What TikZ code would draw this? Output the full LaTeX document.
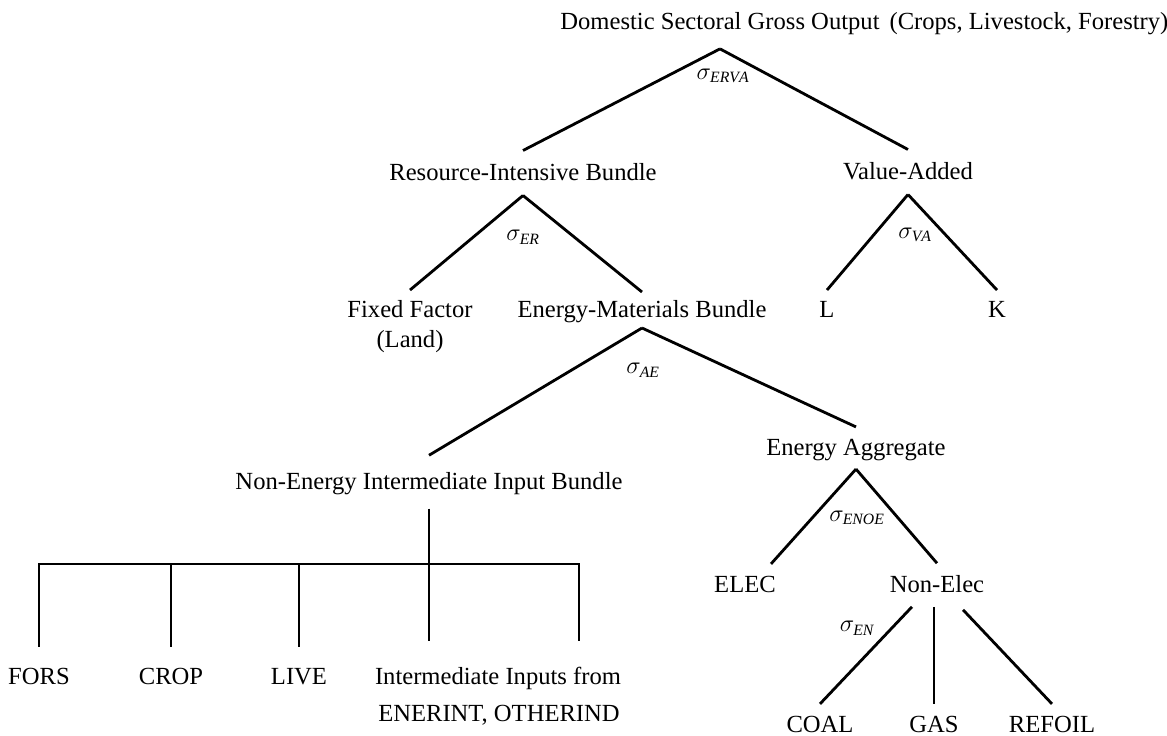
\documentclass[tikz,border=0pt]{standalone}
\usepackage{fontspec}
\setmainfont{Liberation Serif}
\usetikzlibrary{calc}
\begin{document}
\begin{tikzpicture}[x=0.025cm, y=-0.025cm, line width=2pt,
  lbl/.style={font=\fontsize{17.5}{20}\selectfont, inner sep=0pt, outer sep=9.5pt,
    text height=11pt, text depth=0pt},
  leaf/.style={lbl, outer sep=16pt},
  sig/.style={font=\fontsize{16}{18}\selectfont, inner sep=0pt},
  thin/.style={line width=1.4pt}]
  \useasboundingbox (0,0) rectangle (1167,736);

  % top level
  \node[lbl, outer sep=13.6pt] (dsgo) at (720,22) {Domestic Sectoral Gross Output};
  \node[lbl] (crops) at (1029,22) {(Crops, Livestock, Forestry)};
  \node[lbl, outer sep=10.5pt] (rib) at (523,173) {Resource-Intensive Bundle};
  \node[lbl, outer sep=10.5pt] (va) at (908,172) {Value-Added};
  \draw (dsgo.south) -- (rib.north);
  \draw (dsgo.south) -- (va.north);
  \node[sig] (serva) at (723,76) {$\sigma_{\mathit{ERVA}}$};

  % resource bundle and value added
  \node[lbl, outer sep=8.7pt] (ffac) at (410,310) {Fixed Factor};
  \node[lbl] (land) at (410,340) {(Land)};
  \node[lbl, outer sep=7.3pt] (emb) at (642,310) {Energy-Materials Bundle};
  \node[lbl, outer sep=8.7pt] (labr) at (827,310) {L};
  \node[lbl, outer sep=8.7pt] (capl) at (997,310) {K};
  \draw (rib.south) -- (ffac.north);
  \draw (rib.south) -- (emb.north);
  \draw (va.south) -- (labr.north);
  \draw (va.south) -- (capl.north);
  \node[sig] (ser) at (523,237) {$\sigma_{\mathit{ER}}$};
  \node[sig] (sva) at (915,235) {$\sigma_{\mathit{VA}}$};

  % energy-materials bundle
  \node[lbl, outer sep=13.5pt] (neiib) at (429,482) {Non-Energy Intermediate Input Bundle};
  \node[lbl] (ea) at (856,448) {Energy Aggregate};
  \draw (emb.south) -- (neiib.north);
  \draw (emb.south) -- (ea.north);
  \node[sig] (sae) at (643,370) {$\sigma_{\mathit{AE}}$};

  % non-energy inputs
  \node[leaf] (fors) at (39,677) {FORS};
  \node[leaf] (crop) at (171,677) {CROP};
  \node[leaf] (live) at (299,677) {LIVE};
  \node[lbl, outer sep=20pt] (iinp) at (498,677) {Intermediate Inputs from};
  \node[lbl] (iinp2) at (499,714) {ENERINT, OTHERIND};
  \coordinate (barR) at (579,564);
  \draw[thin] (fors.north) |- (barR) -- (barR |- iinp.north);
  \draw[thin] (crop.north) -- (crop.north |- barR);
  \draw (live.north) -- (live.north |- barR);
  \draw[thin] (neiib.south) -- (neiib.south |- iinp.north);

  % energy aggregate
  \node[lbl] (elec) at (745,585) {ELEC};
  \node[lbl, outer sep=10pt] (nonel) at (937,585) {Non-Elec};
  \draw (ea.south) -- ($(elec.north)+(26,0)$);
  \draw (ea.south) -- (nonel.north);
  \node[sig] (senoe) at (857,518) {$\sigma_{\mathit{ENOE}}$};

  % non-electric fuels
  \node[lbl] (coal) at (820,725) {COAL};
  \node[lbl] (gas) at (934,725) {GAS};
  \node[lbl] (refoil) at (1052,725) {REFOIL};
  \draw ($(nonel.south)+(-25,0)$) -- (coal.north);
  \draw ($(nonel.south)+(-3,0)$) -- (gas.north);
  \draw ($(nonel.south)+(26,3)$) -- (refoil.north);
  \node[sig] (sen) at (857,628) {$\sigma_{\mathit{EN}}$};
\end{tikzpicture}
\end{document}
